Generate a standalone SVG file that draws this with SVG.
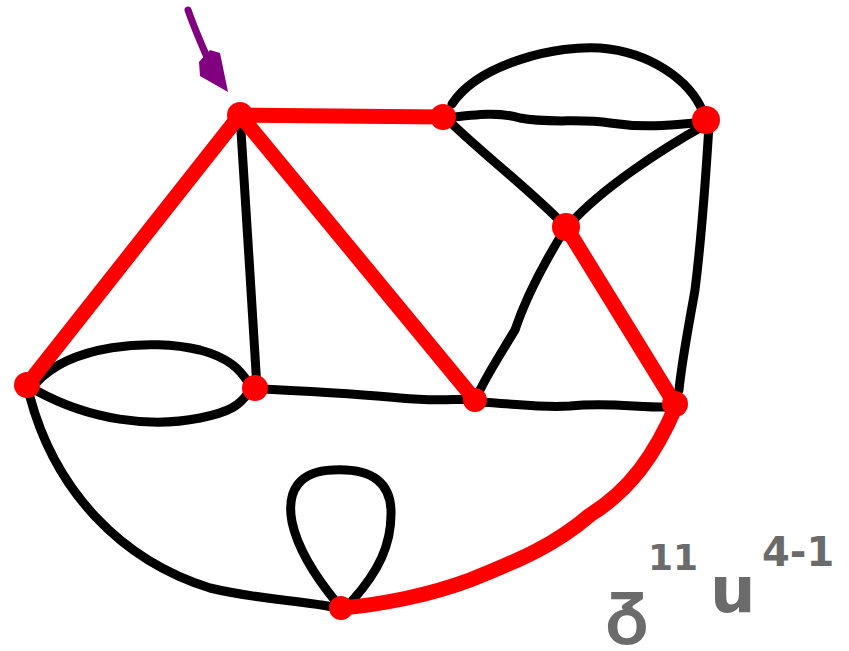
<svg xmlns="http://www.w3.org/2000/svg" width="849" height="651" viewBox="0 0 849 651">
<style>
.e{fill:none;stroke:#000;stroke-width:9;stroke-linecap:round;stroke-linejoin:round}
.r{fill:none;stroke:#ff0000;stroke-width:15;stroke-linecap:round;stroke-linejoin:round}
.n{fill:#ff0000}
.t{fill:#6b6b6b;font-family:"DejaVu Sans","Liberation Sans",sans-serif;font-weight:bold}
</style>
<rect width="849" height="651" fill="#fff"/>
<g id="connectors">
<path class="e" d="M452,104 C480,62 560,45 600,48 C650,52 690,80 703,112"/>
<path class="e" d="M445,118 C480,114 500,112 520,118 C550,124 580,118 610,123 C650,129 680,124 706,122"/>
<path class="e" d="M450,122 C490,160 530,190 565,226"/>
<path class="e" d="M705,125 C660,150 600,190 570,224"/>
<path class="e" d="M709,125 C705,190 700,250 695,290 C688,330 682,360 679,390"/>
<path class="e" d="M562,234 C540,270 525,300 515,330 C500,355 490,370 480,390"/>
<path class="e" d="M240,115 C245,200 252,300 257,388"/>
<path class="e" d="M262,389 C320,392 360,394 400,398 C440,402 460,398 478,400"/>
<path class="e" d="M478,402 C520,404 540,408 570,406 C610,402 640,408 672,407"/>
<path class="e" d="M36,383 C70,345 150,338 200,350 C230,358 240,370 248,382"/>
<path class="e" d="M37,391 C90,420 150,428 200,418 C230,412 240,405 248,393"/>
<path class="e" d="M30,397 C55,490 120,560 210,588 C260,600 300,600 338,608"/>
<path class="e" d="M337,603 C318,580 298,550 292,522 C286,490 300,471 333,470 C375,468 390,485 391,510 C392,545 378,572 352,601"/>
<path class="r" d="M240,115 L443,117"/>
<path class="r" d="M240,115 L27,385"/>
<path class="r" d="M240,115 L475,400"/>
<path class="r" d="M566,227 L675,404"/>
<path class="r" d="M676,406 C655,455 630,490 590,515 C555,545 520,560 470,580 C430,595 380,605 341,608"/>
<path d="M188,10 C195,30 203,48 210,64" fill="none" stroke="#800080" stroke-width="7" stroke-linecap="round"/>
<polygon points="199,62 210,50 220,53 228,92 200,76" fill="#800080"/>
</g>
<g id="n1"><circle class="n" cx="240" cy="115" r="13"/></g>
<g id="n2"><circle class="n" cx="443" cy="117" r="13"/></g>
<g id="n3"><circle class="n" cx="706" cy="120" r="14"/></g>
<g id="n4"><circle class="n" cx="566" cy="227" r="14"/></g>
<g id="n5"><circle class="n" cx="27" cy="385" r="13"/></g>
<g id="n6"><circle class="n" cx="255" cy="388" r="13"/></g>
<g id="n7"><circle class="n" cx="475" cy="400" r="12"/></g>
<g id="n8"><circle class="n" cx="675" cy="404" r="13"/></g>
<g id="n9"><circle class="n" cx="341" cy="608" r="12"/></g>
<g id="label">
<text class="t" x="605" y="630" font-size="72">ᵹ</text>
<text class="t" x="648" y="570" font-size="36">11</text>
<text class="t" x="710" y="612" font-size="64">u</text>
<text class="t" x="762" y="566" font-size="40">4-1</text>
</g>
</svg>
